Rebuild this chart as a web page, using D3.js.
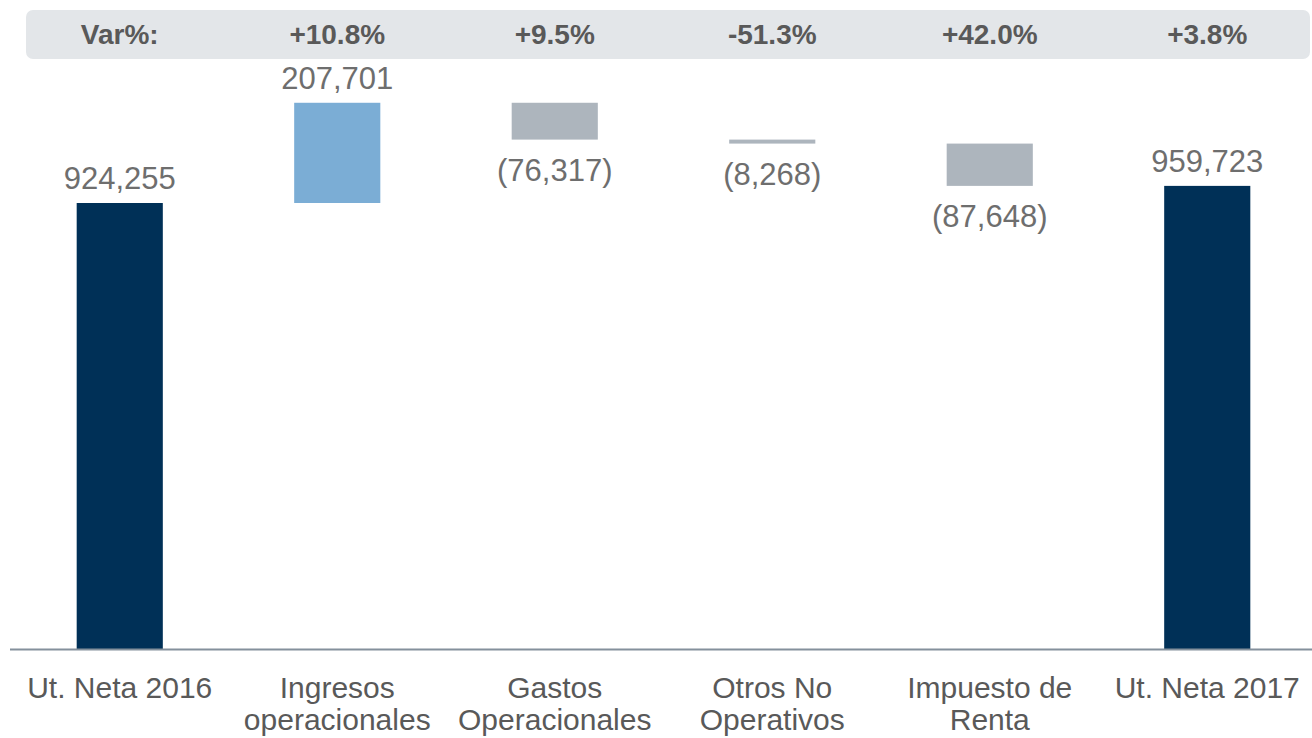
<!DOCTYPE html>
<html>
<head>
<meta charset="utf-8">
<script src="https://cdn.jsdelivr.net/npm/d3@7"></script>
<style>
  html, body { margin: 0; padding: 0; background: #ffffff; }
  svg { display: block; font-family: "Liberation Sans", Arial, sans-serif; }
</style>
</head>
<body>
<svg id="chart" width="1312" height="738"></svg>
<script>
// Waterfall: net income 2016 -> 2017
const categories = [
  ["Ut. Neta 2016"],
  ["Ingresos", "operacionales"],
  ["Gastos", "Operacionales"],
  ["Otros No", "Operativos"],
  ["Impuesto de", "Renta"],
  ["Ut. Neta 2017"]
];
const stepValues = [924255, 207701, -76317, -8268, -87648, 959723];
const stepKinds = ["total", "delta", "delta", "delta", "delta", "total"];
const valueLabels = ["924,255", "207,701", "(76,317)", "(8,268)", "(87,648)", "959,723"];
const varLabels = ["+10.8%", "+9.5%", "-51.3%", "+42.0%", "+3.8%"];
const varTitle = "Var%:";

const W = 1312, H = 738;
const baseY = 649;
const svg = d3.select("#chart");

// running start/end for every step
let running = 0;
const steps = stepValues.map((v, i) => {
  let y0, y1;
  if (stepKinds[i] === "total") { y0 = 0; y1 = v; running = v; }
  else { y0 = running; y1 = running + v; running = y1; }
  return { i, v, y0, y1, kind: stepKinds[i], label: valueLabels[i] };
});

const x = d3.scaleBand()
  .domain(d3.range(categories.length))
  .range([11, 1316])
  .paddingInner(0.604)
  .paddingOuter(0.302);

const y = d3.scaleLinear()
  .domain([0, 924255])
  .range([baseY, 203]);

const colorOf = d => d.kind === "total" ? "#003057" : (d.v >= 0 ? "#7badd5" : "#adb5bd");

// Var% band
svg.append("rect")
  .attr("x", 26).attr("y", 10)
  .attr("width", 1284).attr("height", 49)
  .attr("rx", 7)
  .attr("fill", "#e3e6e9");

svg.append("text")
  .attr("x", x(0) + x.bandwidth() / 2)
  .attr("y", 44)
  .attr("text-anchor", "middle")
  .attr("font-size", 28).attr("font-weight", "bold")
  .attr("fill", "#595959")
  .text(varTitle);

svg.selectAll("text.var")
  .data(varLabels)
  .join("text")
  .attr("class", "var")
  .attr("x", (d, i) => x(i + 1) + x.bandwidth() / 2)
  .attr("y", 44)
  .attr("text-anchor", "middle")
  .attr("font-size", 28).attr("font-weight", "bold")
  .attr("fill", "#595959")
  .text(d => d);

// bars
svg.selectAll("rect.bar")
  .data(steps)
  .join("rect")
  .attr("class", "bar")
  .attr("x", d => x(d.i))
  .attr("width", x.bandwidth())
  .attr("y", d => y(Math.max(d.y0, d.y1)))
  .attr("height", d => Math.abs(y(d.y0) - y(d.y1)))
  .attr("fill", colorOf);

// value labels: above rising bars, below falling ones
svg.selectAll("text.val")
  .data(steps)
  .join("text")
  .attr("class", "val")
  .attr("x", d => x(d.i) + x.bandwidth() / 2)
  .attr("y", d => d.v >= 0 ? y(Math.max(d.y0, d.y1)) - 14 : y(Math.min(d.y0, d.y1)) + 41)
  .attr("text-anchor", "middle")
  .attr("font-size", 31)
  .attr("fill", "#6e6e6e")
  .text(d => d.label);

// baseline
svg.append("line")
  .attr("x1", 10).attr("x2", W)
  .attr("y1", baseY + 0.5).attr("y2", baseY + 0.5)
  .attr("stroke", "#84909c").attr("stroke-width", 2);

// category labels
const cat = svg.selectAll("text.cat")
  .data(categories)
  .join("text")
  .attr("class", "cat")
  .attr("text-anchor", "middle")
  .attr("font-size", 30)
  .attr("fill", "#595959");
cat.selectAll("tspan")
  .data((d, i) => d.map(line => ({ line, i })))
  .join("tspan")
  .attr("x", d => x(d.i) + x.bandwidth() / 2)
  .attr("y", (d, j) => 698 + j * 32)
  .text(d => d.line);
</script>
</body>
</html>
